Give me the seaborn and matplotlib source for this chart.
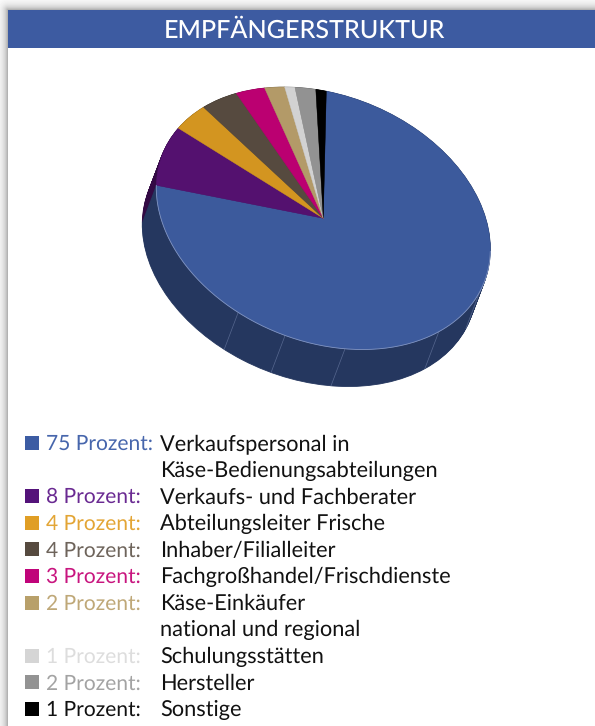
import numpy as np
import pandas as pd
import seaborn as sns
import matplotlib.pyplot as plt
from matplotlib.transforms import Affine2D

title = "EMPFÄNGERSTRUKTUR"
shares = [75, 8, 4, 4, 3, 2, 1, 2, 1]
descriptions = [
    ["Verkaufspersonal in", "Käse-Bedienungsabteilungen"],
    ["Verkaufs- und Fachberater"],
    ["Abteilungsleiter Frische"],
    ["Inhaber/Filialleiter"],
    ["Fachgroßhandel/Frischdienste"],
    ["Käse-Einkäufer", "national und regional"],
    ["Schulungsstätten"],
    ["Hersteller"],
    ["Sonstige"],
]
slice_colors = ["#3c5a9c", "#54116f", "#d39520", "#564a3f", "#bb0071",
                "#b39a68", "#d2d2d2", "#929292", "#000000"]
square_colors = ["#3c5ca3", "#54137a", "#e09e25", "#564a3f", "#c0047a",
                 "#b8a06a", "#d5d5d5", "#939393", "#000000"]
label_colors = ["#4766ac", "#6a2a92", "#e3a535", "#6e645b", "#c8157f",
                "#bfa878", "#dddddd", "#a3a3a3", "#111111"]
# where the side of the disc is split, degrees around the pie
seam_angles = [240.4, 257.8, 278.5, 314.8, 340.6]

sns.set_theme(style="white")
plt.rcParams["font.family"] = ["Lato", "DejaVu Sans"]
plt.rcParams["text.hinting"] = "no_hinting"

fig = plt.figure(figsize=(5.95, 7.26), dpi=100)
ax = fig.add_axes([0, 0, 1, 1])

# shadow of the page behind the card
yy, xx = np.mgrid[0:726, 0:595] + 0.5
dist = np.hypot(np.clip(8 - xx, 0, None), np.clip(10 - yy, 0, None))
shade = 1 - 0.34 * np.exp(-dist / 4.5)
shade[(xx >= 8) & (yy >= 10)] = 1
ax.imshow(shade, cmap="gray", vmin=0, vmax=1, extent=(0, 595, 726, 0), zorder=0)
ax.fill_between([8, 595], 10, 48, color="#3d5ba1", lw=0, zorder=1)
ax.text(304, 30.5, title, color="white", fontsize=18.1, fontweight="medium",
        ha="center", va="center", zorder=2)

# tilted disc: unit circle to pixels
top_face = Affine2D.from_values(167, 33, 3, -127, 323.3, 218.3)

side_colors = sns.color_palette(slice_colors)
side_colors = [tuple(0.61 * c for c in col) for col in side_colors]
for depth in np.linspace(1, 0, 40):
    wedges, _ = ax.pie(shares, colors=side_colors, startangle=90, counterclock=False,
                       wedgeprops=dict(linewidth=0.6, edgecolor="none"))
    for w, col in zip(wedges, side_colors):
        w.set_edgecolor(col)
        w.set_transform(top_face + Affine2D().translate(-14 * depth, 37 * depth) + ax.transData)

for angle in seam_angles:
    a = np.deg2rad(angle)
    top = top_face.transform([np.cos(a), np.sin(a)])
    ax.plot([top[0], top[0] - 14], [top[1], top[1] + 37], color="#56678f", lw=0.5, zorder=3)

wedges, _ = ax.pie(shares, colors=slice_colors, startangle=90, counterclock=False,
                   wedgeprops=dict(linewidth=0.3))
for w, col in zip(wedges, slice_colors):
    w.set_edgecolor(col)
    w.set_transform(top_face + ax.transData)
    w.set_zorder(4)

# light rim where the blue face meets the side
theta = np.deg2rad(np.linspace(180, 360, 200))
rim = top_face.transform(np.column_stack([np.cos(theta), np.sin(theta)]))
ax.plot(rim[:, 0], rim[:, 1], color="#8295c2", lw=0.6, zorder=5)

# legend
rows = []
y = 443
for share, lines in zip(shares, descriptions):
    rows.append(y)
    y += 26.6 * len(lines)
legend = pd.DataFrame({"x": 32, "y": rows, "group": range(len(rows))})
sns.scatterplot(data=legend, x="x", y="y", hue="group", palette=square_colors,
                marker="s", s=102, linewidth=0, legend=False, ax=ax, zorder=6)
for row, share, lines, col in zip(rows, shares, descriptions, label_colors):
    ax.text(46, row + 1, f"{share} Prozent:", color=col, fontsize=15.1, va="center", zorder=6)
    for i, line in enumerate(lines):
        ax.text(160, row + 1 + 26.6 * i, line, color="#111111", fontsize=15.7, va="center", zorder=6)

ax.set_aspect("auto")
ax.set_xlim(0, 595)
ax.set_ylim(726, 0)
ax.set_axis_off()
fig.savefig("out.png", dpi=100)
